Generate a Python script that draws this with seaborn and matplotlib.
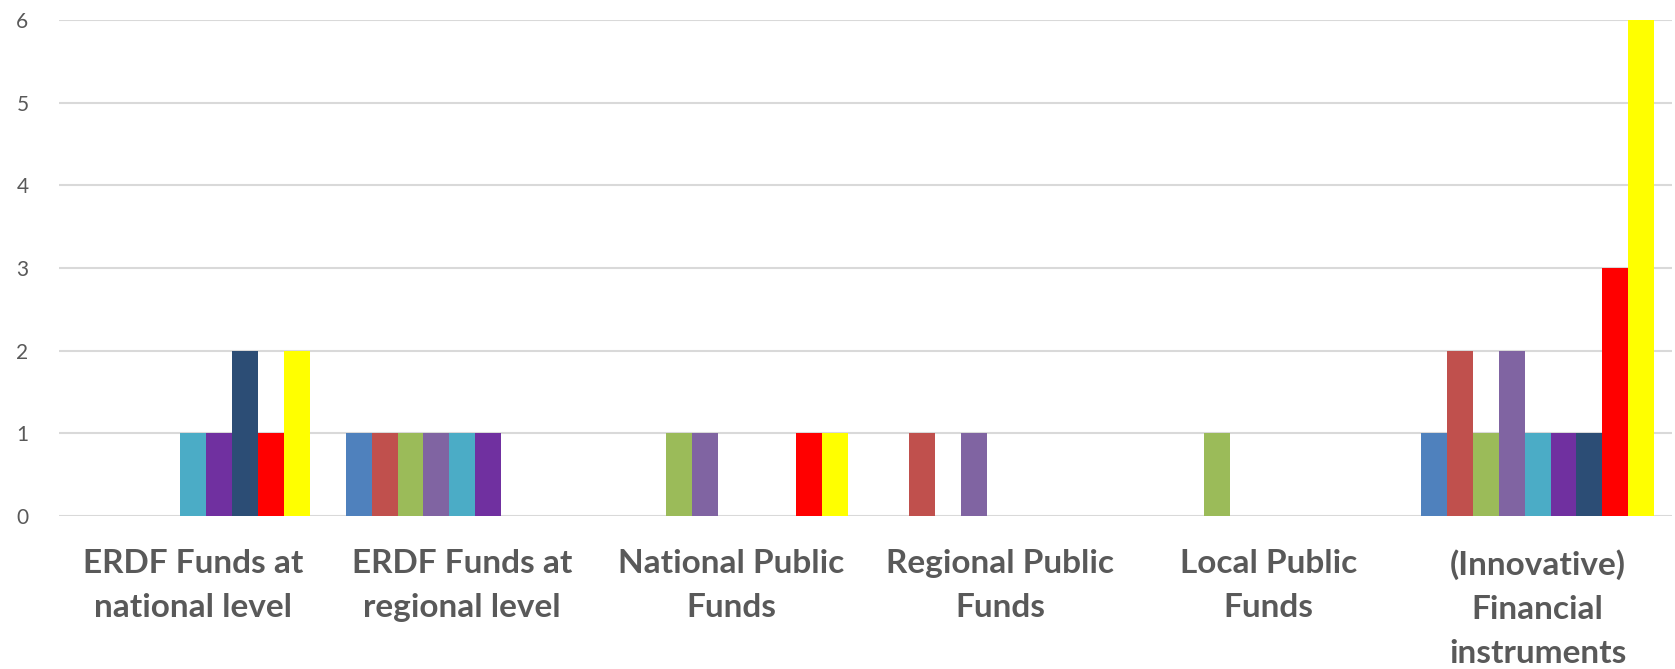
import pandas as pd
import matplotlib
matplotlib.use("Agg")
import matplotlib.pyplot as plt
import seaborn as sns

# categories on the x axis (wrapped as in the source chart)
categories = [
    "ERDF Funds at\nnational level",
    "ERDF Funds at\nregional level",
    "National Public\nFunds",
    "Regional Public\nFunds",
    "Local Public\nFunds",
    "(Innovative)\nFinancial\ninstruments",
]

# one list per series (no legend in the original, so generic names)
series_names = ["S1", "S2", "S3", "S4", "S5", "S6", "S7", "S8", "S9"]
s1 = [0, 1, 0, 0, 0, 1]
s2 = [0, 1, 0, 1, 0, 2]
s3 = [0, 1, 1, 0, 1, 1]
s4 = [0, 1, 1, 1, 0, 2]
s5 = [1, 1, 0, 0, 0, 1]
s6 = [1, 1, 0, 0, 0, 1]
s7 = [2, 0, 0, 0, 0, 1]
s8 = [1, 0, 1, 0, 0, 3]
s9 = [2, 0, 1, 0, 0, 6]

colors = ["#4F81BD", "#C0504D", "#9BBB59", "#8064A2", "#4BACC6",
          "#7030A0", "#2C4D75", "#FF0000", "#FFFF00"]

rows = []
for name, vals in zip(series_names, [s1, s2, s3, s4, s5, s6, s7, s8, s9]):
    for cat, v in zip(categories, vals):
        rows.append({"category": cat, "series": name, "value": v})
df = pd.DataFrame(rows)

sns.set_style("white")
plt.rcParams["font.family"] = ["Lato", "DejaVu Sans"]

fig = plt.figure(figsize=(16.75, 6.69), dpi=100)
ax = fig.add_axes([59 / 1675, 1 - 516 / 669, (1672 - 59) / 1675, (516 - 20) / 669])

sns.barplot(data=df, x="category", y="value", hue="series", order=categories,
            hue_order=series_names, palette=colors, saturation=1,
            width=0.867, linewidth=0, legend=False, ax=ax, zorder=3)

ax.set_ylim(0, 6)
ax.set_xlim(-0.5, len(categories) - 0.5)
ax.set_yticks(range(0, 7))
ax.yaxis.grid(True, color="#D9D9D9", linewidth=1.5, zorder=0)
ax.set_axisbelow(True)
for sp in ax.spines.values():
    sp.set_visible(False)

ax.set_xlabel("")
ax.set_ylabel("")
ax.tick_params(axis="y", length=0, pad=22, labelsize=15, labelcolor="#595959")
ax.tick_params(axis="x", length=0, pad=24, labelsize=24, labelcolor="#595959")
for lbl in ax.get_xticklabels():
    lbl.set_fontweight("bold")
    lbl.set_linespacing(1.62)

fig.savefig("out.png", dpi=100)
